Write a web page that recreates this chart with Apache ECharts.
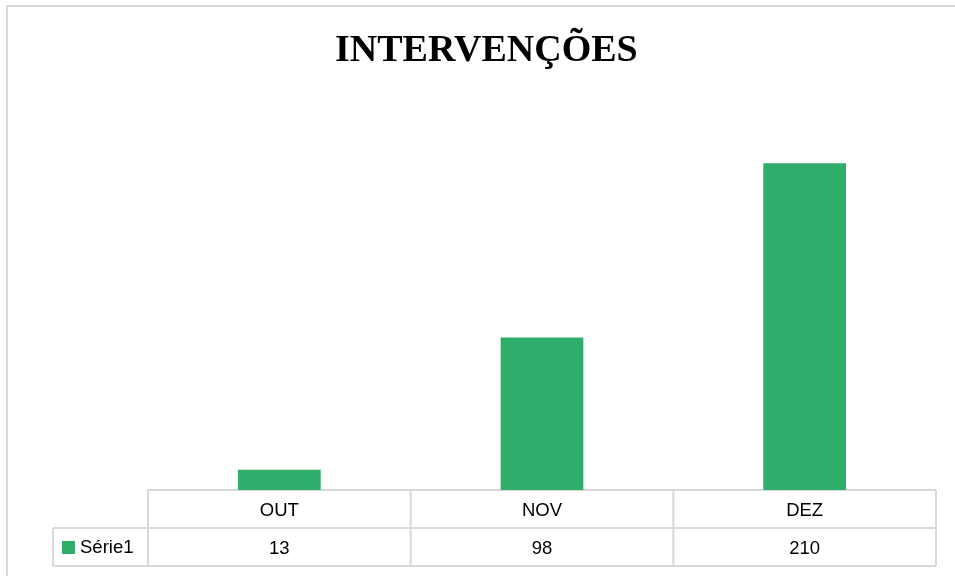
<!DOCTYPE html>
<html>
<head>
<meta charset="utf-8">
<script src="https://cdn.jsdelivr.net/npm/echarts@6/dist/echarts.min.js"></script>
<style>html,body{margin:0;padding:0;background:#fff}#c{width:955px;height:576px}</style>
</head>
<body>
<div id="c"></div>
<script>
const titleText = 'INTERVENÇÕES';
const categories = ['OUT', 'NOV', 'DEZ'];
const seriesName = 'Série1';
const values = [13, 98, 210];

const W = 955, H = 576;
const gLeft = 148, gRight = 936, gTop = 101, gBottom = 490, rowH = 38;
const lineColor = '#d9d9d9';
const barColor = '#2eae6a';
const font = 'Liberation Sans';
const fs = 18.5;

const chart = echarts.init(document.getElementById('c'), null, {renderer: 'canvas'});

const catW = (gRight - gLeft) / categories.length;
const graphics = [];
graphics.push({type: 'rect', shape: {x: 7, y: 6, width: W + 10, height: H + 10}, style: {fill: 'none', stroke: lineColor, lineWidth: 2}, silent: true, z: 0});
const hl = (x1, y, x2) => graphics.push({type: 'line', shape: {x1, y1: y, x2, y2: y}, style: {stroke: lineColor, lineWidth: 2}, silent: true, z: 1});
const vl = (x, y1, y2) => graphics.push({type: 'line', shape: {x1: x, y1, x2: x, y2}, style: {stroke: lineColor, lineWidth: 2}, silent: true, z: 1});
hl(gLeft, gBottom, gRight);
hl(53, gBottom + rowH, gRight);
hl(53, gBottom + 2 * rowH, gRight);
vl(53, gBottom + rowH, gBottom + 2 * rowH);
for (let i = 0; i <= categories.length; i++) vl(gLeft + i * catW, gBottom, gBottom + 2 * rowH);

chart.setOption({
  animation: false,
  title: {
    text: titleText, left: 330, top: 27,
    textStyle: {fontFamily: 'Liberation Serif', fontWeight: 'bold', fontSize: 38, color: '#000'}
  },
  legend: {
    data: [seriesName], left: 57, top: gBottom + rowH + 5,
    itemWidth: 13, itemHeight: 13, itemGap: 5, icon: 'rect',
    textStyle: {fontFamily: font, fontSize: fs, color: '#000', padding: [0, 0, 0, 0]}
  },
  grid: {left: gLeft, right: W - gRight, top: gTop, bottom: H - gBottom},
  xAxis: [
    {type: 'category', data: categories, axisLine: {show: false}, axisTick: {show: false},
     axisLabel: {fontFamily: font, fontSize: fs, color: '#000', margin: 11}},
    {type: 'category', data: categories, position: 'bottom', offset: rowH,
     axisLine: {show: false}, axisTick: {show: false},
     axisLabel: {fontFamily: font, fontSize: fs, color: '#000', margin: 11,
       formatter: (v, i) => String(values[i])}}
  ],
  yAxis: {type: 'value', min: 0, max: 250, show: false, splitLine: {show: false}},
  series: [{
    name: seriesName, type: 'bar', data: values, barWidth: '31.5%',
    itemStyle: {color: barColor}
  }],
  graphic: graphics
});
</script>
</body>
</html>
